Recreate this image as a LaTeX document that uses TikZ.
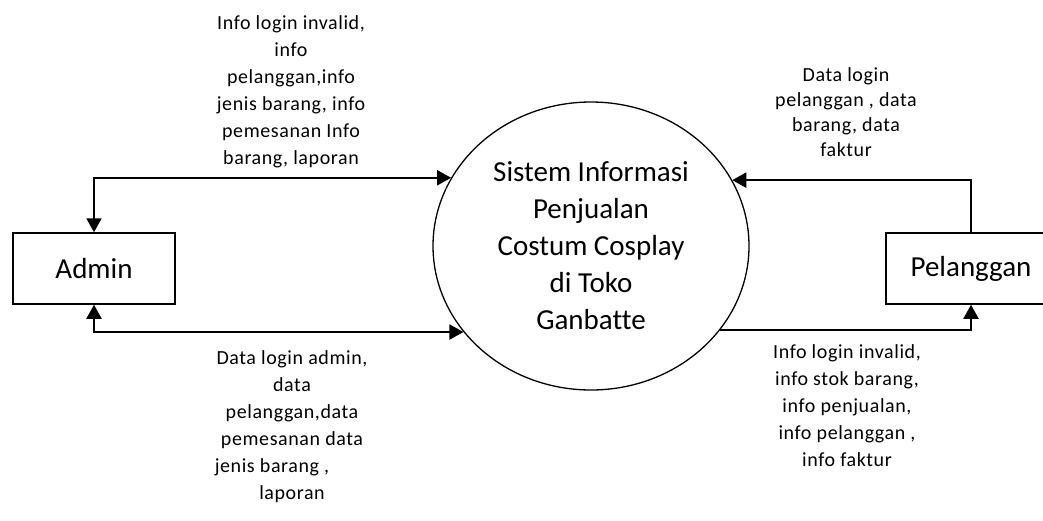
\documentclass[tikz,border=0pt]{standalone}
\usepackage{fontspec}
\setmainfont{Carlito}[Ligatures=NoCommon]
\newfontfamily\flowfont{Carlito}[LetterSpace=3,Ligatures=NoCommon]
\usetikzlibrary{arrows.meta,shapes.geometric}
\begin{document}
\begin{tikzpicture}[x=1pt,y=-1pt,
  entity/.style={draw, line width=1.5pt, minimum width=162pt, minimum height=71pt, inner sep=0pt, font=\fontsize{29}{34}\selectfont},
  proc/.style={ellipse, draw, line width=1.3pt, minimum width=316pt, minimum height=288pt, inner sep=0pt, align=center, font=\fontsize{29}{37}\selectfont},
  flow/.style={line width=2pt},
  lbl/.style={align=center, font=\flowfont\fontsize{20}{27}\selectfont}]
\useasboundingbox (0,0) rectangle (1043,520);
\clip (0,0) rectangle (1043,520);
\node[entity] (admin) at (94,268.5) {Admin};
\node[entity, minimum width=170pt] (pel) at (971,268.5) {Pelanggan};
\node[proc] (sys) at (591,246) {Sistem Informasi\\Penjualan\\Costum Cosplay\\di Toko\\Ganbatte};
\draw[flow, {Triangle[length=14pt,width=15pt]}-{Triangle[length=14pt,width=15pt]}] (admin.north) |- (sys.154.4);
\draw[flow, {Triangle[length=14pt,width=15pt]}-{Triangle[length=14pt,width=15pt]}] (admin.south) |- (sys.214.2);
\draw[flow, -{Triangle[length=14pt,width=15pt]}] (pel.north) |- (sys.25.2);
\draw[flow, -{Triangle[length=14pt,width=15pt]}] (sys.-33.3) -| (pel.south);
\node[lbl] (l1) at (291,92) {Info login invalid,\\info\\pelanggan,info\\jenis barang, info\\pemesanan Info\\barang, laporan};
\node[lbl, font=\flowfont\fontsize{20}{25}\selectfont] (l2) at (846,112) {Data login\\pelanggan , data\\barang, data\\faktur};
\node[lbl] (l3) at (292,427) {Data login admin,\\data\\pelanggan,data\\pemesanan data\\jenis barang ,\rule{40pt}{0pt}\\laporan};
\node[lbl] (l4) at (847,406) {Info login invalid,\\info stok barang,\\info penjualan,\\info pelanggan ,\\info faktur};
\end{tikzpicture}
\end{document}
